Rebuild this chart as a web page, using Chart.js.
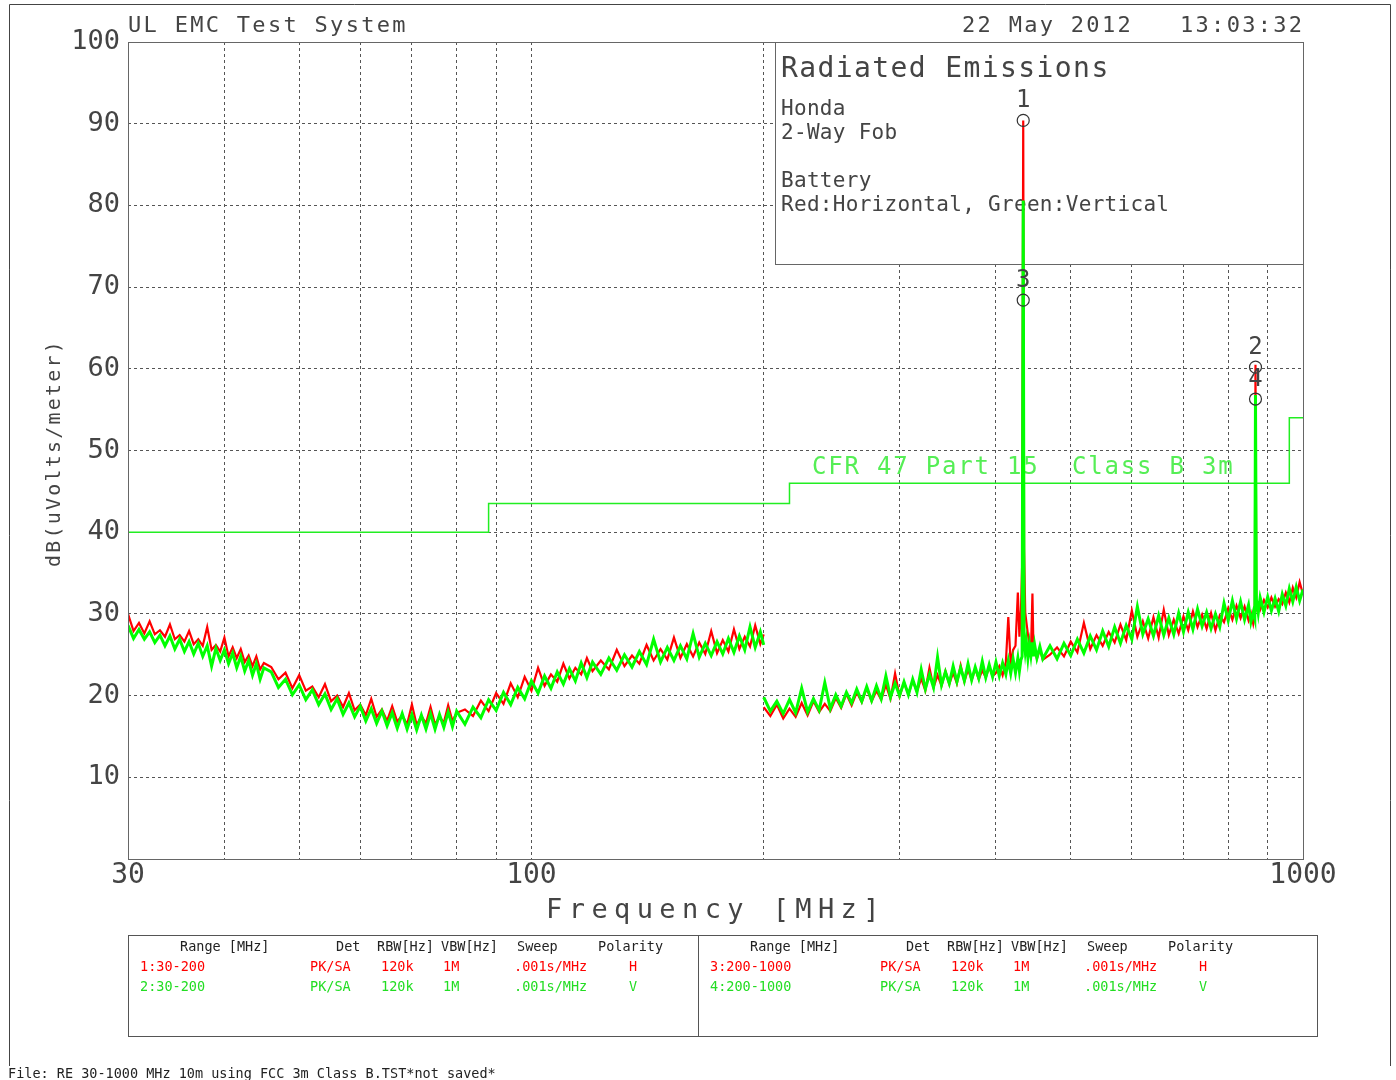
<!DOCTYPE html>
<html>
<head>
<meta charset="utf-8">
<title>Radiated Emissions</title>
<script src="https://cdn.jsdelivr.net/npm/chart.js@4.4.1/dist/chart.umd.min.js"></script>
<style>
  html, body { margin: 0; padding: 0; background: #fff; }
  canvas { display: block; }
</style>
</head>
<body>
<canvas id="emcChart" width="1396" height="1080"></canvas>
<script>
// ---- data ----
// 30-200 MHz sweep (ranges 1 and 2)
const freqLow = [30,30.5,31,31.5,32,32.5,33,33.5,34,34.5,35,35.5,36,36.5,37,37.5,38,38.5,39,39.5,40,40.5,41,41.5,42,42.5,43,43.5,44,44.5,45,
    46,47,48,49,50,51,52,53,54,55,56,57,58,59,60,61,62,63,64,65,66,67,68,69,70,71,72,73,74,75,76,77,78,79,80,
    82,84,86,88,90,92,94,96,98,100,102,104,106,108,110,112,114,116,118,120,
    123,126,129,132,135,138,141,144,147,150,153,156,159,162,165,168,171,174,177,180,183,186,189,192,195,198,200];
const redLow = [30.0,27.9,28.9,27.6,29.1,27.5,28.0,27.2,28.7,26.9,27.4,26.6,27.9,26.3,26.9,26.1,28.4,25.6,26.2,25.4,27.1,24.8,25.9,24.6,25.7,24.1,24.9,23.6,24.8,23.2,24.0,
    23.5,22.0,22.8,20.9,22.5,20.6,21.1,19.8,21.4,19.3,20.0,18.6,20.3,18.2,18.9,17.6,19.6,17.4,18.3,16.9,18.7,16.8,17.6,16.5,18.9,16.4,17.5,16.6,18.6,16.5,17.4,16.7,18.8,16.9,17.9,
    18.3,17.5,19.4,18.1,20.3,19.0,21.5,19.8,22.3,20.6,23.4,21.2,22.6,21.7,23.9,22.1,23.4,22.6,24.6,23.0,
    24.3,23.2,25.6,23.6,24.9,23.9,26.2,24.3,25.7,24.4,27.1,24.6,26.3,24.8,26.5,25.1,27.9,25.2,26.8,25.4,28.1,25.7,27.2,26.0,28.6,26.3,27.5];
const greenLow = [28.6,27.0,28.1,26.9,27.8,26.5,27.4,26.1,27.3,25.7,26.9,25.4,26.6,25.1,26.4,24.8,26.1,23.6,25.8,24.3,25.6,23.9,25.2,23.4,24.8,23.0,24.3,22.5,23.9,22.0,23.4,
    22.9,21.0,22.0,20.1,21.3,19.5,20.7,18.9,20.2,18.3,19.6,17.7,19.1,17.4,18.7,16.9,18.4,16.6,18.1,16.3,17.9,16.0,17.8,15.9,17.7,15.8,17.6,15.9,17.8,15.9,17.7,16.1,18.0,16.2,18.1,
    16.5,18.6,17.3,19.5,18.2,20.4,18.9,21.0,19.6,21.8,20.3,22.4,20.9,22.9,21.4,23.3,21.8,24.0,22.2,24.1,
    22.6,24.6,23.1,25.0,23.5,25.4,23.8,26.9,24.1,25.9,24.3,26.1,24.5,27.6,24.7,26.4,24.9,26.6,25.1,27.0,25.3,27.3,25.6,28.4,25.9,27.8,26.2];

// 200-1000 MHz sweep (ranges 3 and 4)
const freqHigh = [200,204,208,212,216,220,224,228,232,236,240,244,248,252,256,260,264,268,272,276,280,284,288,292,296,300,304,308,312,316,320,324,328,332,336,340,344,348,352,356,360,364,368,372,376,380,384,388,392,396,
    400,404,408,412,415,418,421,424,427,429,431,432.5,433.9,435,436.5,438,440,442,444,446,447.5,449,452,456,460,
    470,480,490,500,510,520,530,540,550,560,570,580,590,600,610,620,630,640,650,660,670,680,690,700,710,720,730,740,750,760,770,780,790,800,810,820,830,840,850,
    856,862,866,867.8,870,875,880,890,900,910,920,930,940,950,960,970,980,990,1000];
const redHigh = [18.6,17.5,18.9,17.2,18.4,17.4,19.1,17.6,19.3,18.0,19.0,18.1,19.7,18.5,20.2,18.8,20.4,19.2,20.9,19.3,20.6,19.5,21.3,19.6,22.7,19.9,21.6,20.2,21.8,20.5,22.1,20.6,23.4,21.0,22.5,21.2,23.0,21.4,22.8,21.5,23.7,21.7,23.2,21.9,23.3,22.0,23.1,22.2,23.5,22.4,
    22.8,23.6,22.5,24.1,29.6,23.8,25.6,26.1,32.6,27.2,30.5,36.0,90.4,38.0,30.2,29.0,27.5,26.4,25.2,32.5,25.0,25.8,24.5,25.7,24.4,
    25.0,25.9,24.8,26.6,25.3,28.9,25.7,27.4,26.1,27.8,26.5,28.7,26.8,30.4,27.2,29.1,27.0,29.6,27.1,30.5,27.4,29.3,27.6,29.7,28.0,30.3,28.4,29.9,28.2,30.1,28.0,29.8,29.0,30.7,29.3,31.0,29.5,30.9,29.2,
    30.1,28.8,29.9,60.5,30.6,31.2,30.5,31.7,30.8,32.0,30.9,31.8,31.2,32.6,31.4,33.2,32.0,33.9,32.4];
const greenHigh = [19.8,18.1,19.3,17.8,19.5,17.9,20.9,18.0,19.6,18.2,21.6,18.4,20.1,18.7,20.4,19.1,20.8,19.3,21.1,19.4,21.2,19.6,22.4,19.8,21.5,20.0,21.7,20.1,22.0,20.4,23.2,20.8,22.6,21.0,24.7,21.3,22.9,21.5,23.6,21.7,23.4,21.8,23.9,21.9,23.5,22.1,24.2,22.2,23.8,22.3,
    24.1,22.4,24.0,22.6,24.3,22.7,24.5,22.8,24.6,23.0,24.4,24.8,80.6,26.9,25.4,26.6,24.6,26.3,24.9,26.5,24.8,26.2,24.6,26.0,24.5,
    26.1,24.5,26.4,24.9,26.9,25.2,27.3,25.6,27.9,26.0,28.4,26.4,28.6,26.9,30.9,27.5,29.4,27.3,29.8,27.4,29.5,27.5,30.1,27.8,30.2,28.1,30.6,28.5,30.2,28.2,30.0,28.4,31.3,29.2,31.6,29.4,31.5,29.3,31.1,
    29.0,30.2,29.4,56.8,31.8,30.1,32.0,30.2,32.1,30.4,31.9,30.3,32.4,31.0,33.1,31.5,33.3,31.6,33.0];

// FCC Part 15 Class B 3m limit
const limitFreq = [30, 88, 216, 960, 1000];
const limitLevel = [40, 43.5, 46, 54, 54];
const limitLabel = 'CFR 47 Part 15  Class B 3m';

// markers
const markerFreq = [433.9, 867.8, 433.9, 867.8];
const markerLevel = [90.4, 60.2, 68.4, 56.3];
const markerLabels = ['1', '2', '3', '4'];

// axes
const xGridTicks = [30, 40, 50, 60, 70, 80, 90, 100, 200, 300, 400, 500, 600, 700, 800, 900, 1000];
const xLabelTicks = [30, 100, 1000];
const yTickStep = 10;

// texts
const headerLeft = 'UL EMC Test System';
const headerDate = '22 May 2012';
const headerTime = '13:03:32';
const xTitle = 'Frequency [MHz]';
const yTitle = 'dB(uVolts/meter)';
const legendTitle = 'Radiated Emissions';
const legendLines = ['Honda', '2-Way Fob', '', 'Battery', 'Red:Horizontal, Green:Vertical'];
const tableHeader = ['Range [MHz]', 'Det', 'RBW[Hz]', 'VBW[Hz]', 'Sweep', 'Polarity'];
const tableRows = [
    ['1:30-200', 'PK/SA', '120k', '1M', '.001s/MHz', 'H'],
    ['2:30-200', 'PK/SA', '120k', '1M', '.001s/MHz', 'V'],
    ['3:200-1000', 'PK/SA', '120k', '1M', '.001s/MHz', 'H'],
    ['4:200-1000', 'PK/SA', '120k', '1M', '.001s/MHz', 'V']
];
const fileLine = 'File: RE 30-1000 MHz 10m using FCC 3m Class B.TST*not saved*';

// ---- drawing ----
const MONO = '"DejaVu Sans Mono", "Liberation Mono", monospace';
const INK = '#444';
const RED = '#ff0000';
const GREEN = '#00ff00';

const pts = (xs, ys) => xs.map((x, i) => ({ x: x, y: ys[i] }));

function drawText(c, str, x, y, size, color, spacing, align) {
    c.font = size + 'px ' + MONO;
    c.letterSpacing = (spacing || 0) + 'px';
    c.fillStyle = color;
    c.textAlign = align || 'left';
    c.textBaseline = 'alphabetic';
    c.fillText(str, x, y);
}

function trace(data, color, width, order) {
    return {
        data: data,
        borderColor: color,
        borderWidth: width,
        borderJoinStyle: 'miter',
        pointRadius: 0,
        tension: 0,
        fill: false,
        order: order
    };
}

const decor = {
    id: 'decor',
    beforeDraw(chart) {
        const c = chart.ctx;
        c.save();
        c.fillStyle = '#fff';
        c.fillRect(0, 0, chart.width, chart.height);
        c.restore();
    },
    beforeDatasetsDraw(chart) {
        const c = chart.ctx;
        const a = chart.chartArea;
        c.save();
        // info box in upper right corner of the plot
        c.fillStyle = '#fff';
        c.fillRect(775, a.top, a.right - 775, 222);
        c.strokeStyle = '#666';
        c.lineWidth = 1;
        c.strokeRect(775.5, a.top + 0.5, a.right - 775, 222);
        drawText(c, legendTitle, 781, 77, 28, INK, 1.4);
        legendLines.forEach((s, i) => drawText(c, s, 781, 115 + i * 24, 21, INK, 0.3));
        // limit label
        drawText(c, limitLabel, 812, 474, 24, '#55ee55', 1.8);
        c.restore();
    },
    afterDatasetsDraw(chart) {
        const c = chart.ctx;
        const a = chart.chartArea;
        c.save();
        c.strokeStyle = '#666';
        c.lineWidth = 1;
        c.strokeRect(a.left + 0.5, a.top + 0.5, a.right - a.left, a.bottom - a.top);
        const meta = chart.getDatasetMeta(0);
        meta.data.forEach((el, i) => drawText(c, markerLabels[i], el.x, el.y - 13, 24, INK, 0, 'center'));
        c.restore();
    },
    afterDraw(chart) {
        const c = chart.ctx;
        c.save();
        // page frame
        c.strokeStyle = '#444';
        c.lineWidth = 1;
        c.beginPath();
        c.moveTo(9.5, 1066);
        c.lineTo(9.5, 4.5);
        c.lineTo(1390.5, 4.5);
        c.lineTo(1390.5, 1066);
        c.stroke();

        drawText(c, headerLeft, 128, 32, 22, INK, 2.3);
        drawText(c, headerDate, 962, 32, 22, INK, 2.3);
        drawText(c, headerTime, 1180, 32, 22, INK, 2.3);

        drawText(c, xTitle, 716, 918, 27, INK, 6.4, 'center');
        c.save();
        c.translate(60, 453);
        c.rotate(-Math.PI / 2);
        drawText(c, yTitle, 0, 0, 20, INK, 2.2, 'center');
        c.restore();

        // sweep settings table
        c.strokeStyle = '#555';
        c.strokeRect(128.5, 935.5, 1189, 101);
        c.beginPath();
        c.moveTo(698.5, 935.5);
        c.lineTo(698.5, 1036.5);
        c.stroke();
        const headX = [180, 336, 377, 441, 517, 598];
        const rowX = [140, 310, 381, 443, 514, 629];
        [0, 570].forEach((off, t) => {
            tableHeader.forEach((s, j) => drawText(c, s, headX[j] + off, 951, 13.5, '#222', 0));
            [0, 1].forEach(r => {
                const row = tableRows[t * 2 + r];
                const col = r === 0 ? RED : '#22dd22';
                row.forEach((s, j) => drawText(c, s, rowX[j] + off, 971 + r * 20, 13.5, col, 0));
            });
        });

        drawText(c, fileLine, 8, 1078, 13.5, '#222', 0);
        c.restore();
    }
};

new Chart(document.getElementById('emcChart').getContext('2d'), {
    type: 'line',
    data: {
        datasets: [
            {
                data: pts(markerFreq, markerLevel),
                showLine: false,
                pointStyle: 'circle',
                pointRadius: 6,
                pointBorderWidth: 1.2,
                pointBorderColor: '#333',
                pointBackgroundColor: 'rgba(0,0,0,0)',
                order: 0
            },
            trace(pts(freqLow, greenLow), GREEN, 3, 1),
            trace(pts(freqHigh, greenHigh), GREEN, 3, 1),
            trace(pts(freqLow, redLow), RED, 2.2, 2),
            trace(pts(freqHigh, redHigh), RED, 2.2, 2),
            {
                data: pts(limitFreq, limitLevel),
                borderColor: '#22ee22',
                borderWidth: 1.5,
                pointRadius: 0,
                stepped: 'before',
                fill: false,
                order: 3
            }
        ]
    },
    options: {
        responsive: false,
        animation: false,
        events: [],
        layout: { padding: { left: 0, top: 42, right: 93, bottom: 181 } },
        plugins: {
            legend: { display: false },
            tooltip: { enabled: false }
        },
        scales: {
            x: {
                type: 'logarithmic',
                min: 30,
                max: 1000,
                afterBuildTicks: s => { s.ticks = xGridTicks.map(v => ({ value: v })); },
                afterFit: s => { s.height = 40; },
                ticks: {
                    autoSkip: false,
                    maxRotation: 0,
                    padding: 0,
                    color: INK,
                    font: { family: MONO, size: 28 },
                    callback: v => xLabelTicks.includes(v) ? String(v) : ''
                },
                grid: { color: '#555', lineWidth: 1, drawTicks: false },
                border: { display: false, dash: [3, 3] }
            },
            y: {
                min: 0,
                max: 100,
                afterFit: s => { s.width = 128; },
                ticks: {
                    stepSize: yTickStep,
                    padding: 8,
                    color: INK,
                    font: { family: MONO, size: 27 },
                    callback: v => v === 0 ? '' : String(v)
                },
                grid: { color: '#555', lineWidth: 1, drawTicks: false },
                border: { display: false, dash: [3, 3] }
            }
        }
    },
    plugins: [decor]
});
</script>
</body>
</html>
